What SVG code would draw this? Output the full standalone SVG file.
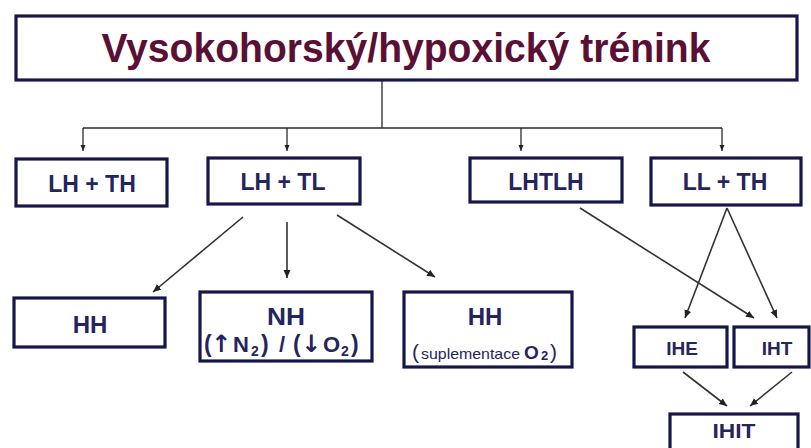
<svg xmlns="http://www.w3.org/2000/svg" width="811" height="448" viewBox="0 0 811 448">
<style>
.box{fill:#fff;stroke:#16164a;stroke-width:3.2}
.lbl{font-family:"Liberation Sans",Arial,sans-serif;font-weight:bold;fill:#25255e;text-anchor:middle}
.title{font-family:"Liberation Sans",Arial,sans-serif;font-weight:bold;fill:#5a1035;text-anchor:middle}
.arr{font-family:"DejaVu Sans",sans-serif;font-weight:bold}
.con{fill:none;stroke:#2a2a2a;stroke-width:1.3}
.dia{fill:none;stroke:#333;stroke-width:1.6}
</style>
<defs>
<marker id="ah" markerUnits="userSpaceOnUse" markerWidth="9" markerHeight="8" refX="8" refY="3.5" orient="auto">
<path d="M0,0 L8,3.5 L0,7 z" fill="#222"/>
</marker>
<marker id="ahs" markerUnits="userSpaceOnUse" markerWidth="7" markerHeight="6" refX="6" refY="2.5" orient="auto">
<path d="M0,0 L6,2.5 L0,5 z" fill="#222"/>
</marker>
</defs>
<rect width="811" height="448" fill="#fff"/>
<g id="connectors">
<path class="con" d="M382,80 V128 M83,128 H722"/>
<path class="con" d="M83,128 V151" marker-end="url(#ahs)"/>
<path class="con" d="M287,128 V151" marker-end="url(#ahs)"/>
<path class="con" d="M521,128 V151" marker-end="url(#ahs)"/>
<path class="con" d="M722,128 V151" marker-end="url(#ahs)"/>
<path class="dia" d="M243,217 L153,292" marker-end="url(#ah)"/>
<path class="dia" d="M287,222 V278" marker-end="url(#ah)"/>
<path class="dia" d="M337,215 L435,277" marker-end="url(#ah)"/>
<path class="dia" d="M580,208 L754,318" marker-end="url(#ah)"/>
<path class="dia" d="M727,208 L685,318" marker-end="url(#ah)"/>
<path class="dia" d="M727,208 L777,318" marker-end="url(#ah)"/>
<path class="dia" d="M683,372 L727,406" marker-end="url(#ah)"/>
<path class="dia" d="M792,372 L750,406" marker-end="url(#ah)"/>
</g>
<g id="title">
<rect class="box" x="16" y="16" width="781" height="64" stroke-width="3.6"/>
<text class="title" x="406" y="62" font-size="41" textLength="609" lengthAdjust="spacingAndGlyphs">Vysokohorský/hypoxický trénink</text>
</g>
<g id="lhth">
<rect class="box" x="16" y="159" width="151" height="47"/>
<text class="lbl" x="92" y="192" font-size="23">LH + TH</text>
</g>
<g id="lhtl">
<rect class="box" x="208" y="158" width="152" height="46"/>
<text class="lbl" x="283" y="190" font-size="23">LH + TL</text>
</g>
<g id="lhtlh">
<rect class="box" x="470" y="158" width="152" height="44"/>
<text class="lbl" x="546" y="190" font-size="23">LHTLH</text>
</g>
<g id="llth">
<rect class="box" x="651" y="158" width="150" height="47"/>
<text class="lbl" x="725" y="190" font-size="23">LL + TH</text>
</g>
<g id="hh1">
<rect class="box" x="14" y="298" width="151" height="49"/>
<text class="lbl" x="90" y="333" font-size="24">HH</text>
</g>
<g id="nh">
<rect class="box" x="200" y="292" width="172" height="69"/>
<text class="lbl" x="286" y="325" font-size="24" textLength="38" lengthAdjust="spacingAndGlyphs">NH</text>
<text class="lbl" font-size="22" y="352" style="text-anchor:start"><tspan x="204" font-size="23">(</tspan><tspan class="arr" x="211" font-size="24">↑</tspan><tspan x="233">N</tspan><tspan x="251" font-size="14" dy="4">2</tspan><tspan x="261" font-size="23" dy="-4">)</tspan><tspan x="279" font-size="22">/</tspan><tspan x="293" font-size="23">(</tspan><tspan class="arr" x="301" font-size="24">↓</tspan><tspan x="323">O</tspan><tspan x="341" font-size="14" dy="4">2</tspan><tspan x="351" font-size="23" dy="-4">)</tspan></text>
</g>
<g id="hh2">
<rect class="box" x="404" y="292" width="168" height="75"/>
<text class="lbl" x="485" y="325" font-size="24">HH</text>
<text class="lbl" y="359" style="text-anchor:start"><tspan x="412" font-size="21" font-weight="normal">(</tspan><tspan x="421" font-size="14.5" font-weight="normal" textLength="99" lengthAdjust="spacingAndGlyphs">suplementace</tspan><tspan x="524" font-size="19">O</tspan><tspan x="541" font-size="13" dy="1">2</tspan><tspan x="550" font-size="21" font-weight="normal" dy="-1">)</tspan></text>
</g>
<g id="ihe">
<rect class="box" x="634" y="327" width="93" height="40"/>
<text class="lbl" x="682" y="355" font-size="19">IHE</text>
</g>
<g id="iht">
<rect class="box" x="734" y="327" width="75" height="40"/>
<text class="lbl" x="777" y="355" font-size="19">IHT</text>
</g>
<g id="ihit">
<rect class="box" x="670" y="414" width="128" height="40"/>
<text class="lbl" x="734" y="438" font-size="20" textLength="43" lengthAdjust="spacingAndGlyphs">IHIT</text>
</g>
</svg>
